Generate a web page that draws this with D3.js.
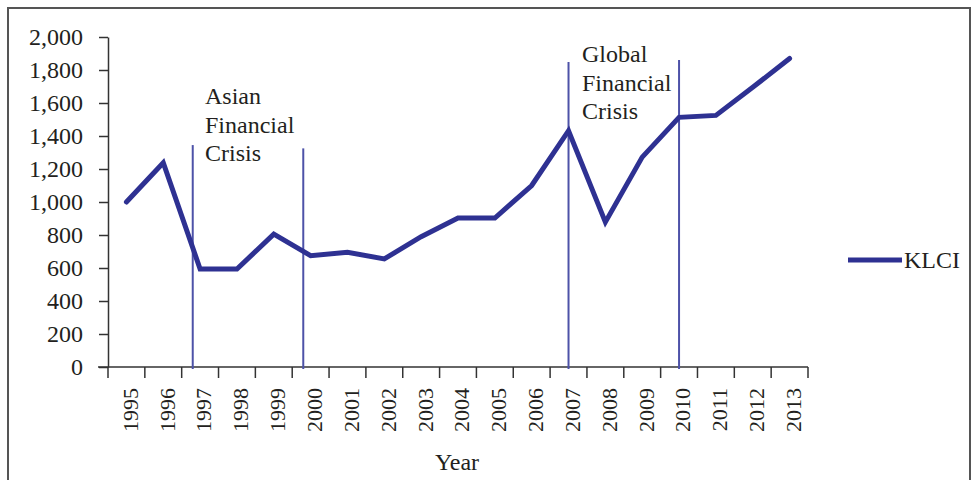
<!DOCTYPE html>
<html>
<head>
<meta charset="utf-8">
<script src="https://cdn.jsdelivr.net/npm/d3@7"></script>
<style>
  body { margin: 0; background: #fff; }
  text { font-family: "Liberation Serif", "Times New Roman", serif; fill: #231f20; }
</style>
</head>
<body>
<div id="view"></div>
<script>
var width = 972, height = 480;

// data
var years = [1995, 1996, 1997, 1998, 1999, 2000, 2001, 2002, 2003, 2004,
             2005, 2006, 2007, 2008, 2009, 2010, 2011, 2012, 2013];
var klci = [1000, 1238, 594, 594, 805, 675, 695, 655, 790, 903,
            903, 1100, 1432, 878, 1272, 1513, 1525, 1695, 1870];
var yTicks = [0, 200, 400, 600, 800, 1000, 1200, 1400, 1600, 1800, 2000];
// crisis marker lines: year position and top value
var crisisYears = [1996.8, 1999.8, 2007, 2010];
var crisisTops = [1345, 1325, 1848, 1860];
var crisisLabels = [["Asian", "Financial", "Crisis"], ["Global", "Financial", "Crisis"]];
var seriesName = "KLCI";

var plotL = 108, plotR = 808, plotT = 37, plotB = 367;
var band = (plotR - plotL) / years.length;

var svg = d3.select("#view").append("svg")
	.attr("width", width)
	.attr("height", height);

// outer frame
svg.append("rect")
	.attr("x", 8).attr("y", 8)
	.attr("width", 962).attr("height", 480)
	.attr("fill", "none")
	.attr("stroke", "#555")
	.attr("stroke-width", 2);

var y = d3.scaleLinear().domain([0, 2000]).range([plotB, plotT]);
var xb = d3.scaleBand().domain(years).range([plotL, plotR]);
var xl = d3.scaleLinear().domain([1995, 2013]).range([plotL + band / 2, plotR - band / 2]);

// y axis
var yAxis = svg.append("g")
	.attr("transform", "translate(" + plotL + ",0)")
	.call(d3.axisLeft(y).tickValues(yTicks).tickFormat(d3.format(",")).tickSize(9).tickSizeOuter(0));
yAxis.select(".domain").attr("stroke", "#333").attr("stroke-width", 1.5);
yAxis.selectAll(".tick line").attr("stroke", "#333").attr("stroke-width", 1.5);
yAxis.selectAll(".tick text")
	.attr("x", -25)
	.style("font-size", "24px")
	.style("font-family", "Liberation Serif");

// x axis
var xAxis = svg.append("g")
	.attr("transform", "translate(0," + plotB + ")")
	.call(d3.axisBottom(xb).tickSize(0).tickSizeOuter(0));
xAxis.select(".domain").remove();
xAxis.append("line")
	.attr("x1", plotL - 10).attr("x2", plotR)
	.attr("stroke", "#333").attr("stroke-width", 1.5);
xAxis.selectAll(".bnd")
	.data(d3.range(years.length + 1)).enter()
	.append("line")
	.attr("x1", function(i) { return plotL + i * band; })
	.attr("x2", function(i) { return plotL + i * band; })
	.attr("y1", 0).attr("y2", 11)
	.attr("stroke", "#333").attr("stroke-width", 1.5);
xAxis.selectAll(".tick text")
	.attr("transform", "rotate(-90)")
	.attr("x", -21).attr("y", 3).attr("dy", "0.38em")
	.attr("text-anchor", "end")
	.style("font-size", "22px")
	.style("font-family", "Liberation Serif");

svg.append("text")
	.attr("x", 457).attr("y", 470)
	.attr("text-anchor", "middle")
	.style("font-size", "24px")
	.text("Year");

// crisis lines
svg.selectAll(".crisis")
	.data(crisisYears).enter()
	.append("line")
	.attr("class", "crisis")
	.attr("x1", function(d) { return xl(d); })
	.attr("x2", function(d) { return xl(d); })
	.attr("y1", function(d, i) { return y(crisisTops[i]); })
	.attr("y2", plotB + 2)
	.attr("stroke", "#4d52a8")
	.attr("stroke-width", 2);

// crisis labels
var labelPos = [[205, 104], [582, 62]];
crisisLabels.forEach(function(lines, k) {
	svg.append("g").selectAll("text")
		.data(lines).enter()
		.append("text")
		.attr("x", labelPos[k][0])
		.attr("y", function(d, i) { return labelPos[k][1] + i * 28.5; })
		.style("font-size", "24px")
		.text(function(d) { return d; });
});

// series line
var line = d3.line()
	.x(function(d, i) { return xl(years[i]); })
	.y(function(d) { return y(d); });
svg.append("path")
	.datum(klci)
	.attr("d", line)
	.attr("fill", "none")
	.attr("stroke", "#2e3192")
	.attr("stroke-width", 5)
	.attr("stroke-linejoin", "miter")
	.attr("stroke-linecap", "round");

// legend
svg.append("line")
	.attr("x1", 848).attr("x2", 902)
	.attr("y1", 260).attr("y2", 260)
	.attr("stroke", "#2e3192")
	.attr("stroke-width", 5);
svg.append("text")
	.attr("x", 904).attr("y", 268)
	.style("font-size", "24px")
	.text(seriesName);
</script>
</body>
</html>
